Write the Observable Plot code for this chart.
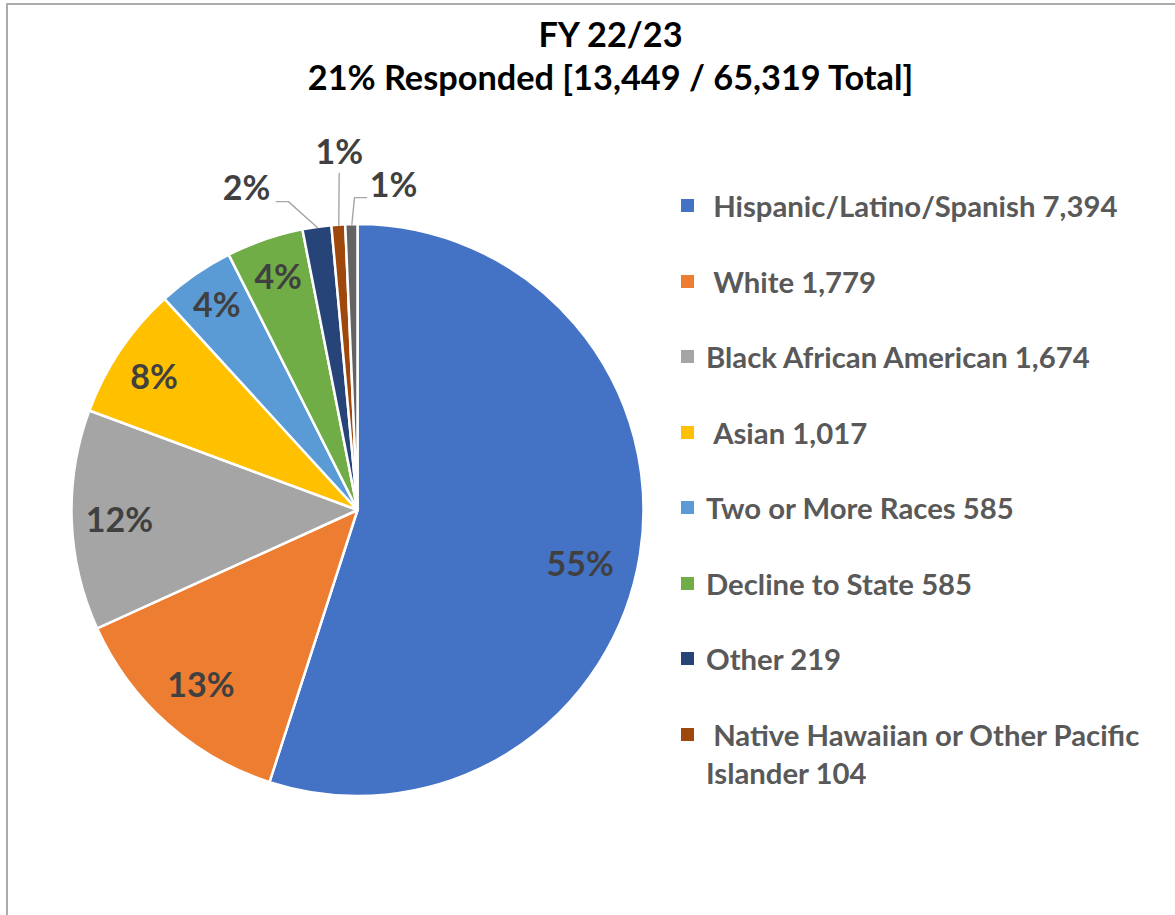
<!DOCTYPE html>
<html>
<head>
<meta charset="utf-8">
<script src="https://cdn.jsdelivr.net/npm/d3@7"></script>
<script src="https://cdn.jsdelivr.net/npm/@observablehq/plot@0.6"></script>
<style>
  body { margin: 0; background: #fff; font-family: Lato, "Open Sans", sans-serif; }
  #wrap { position: relative; width: 1175px; height: 915px; overflow: hidden; background: #fff; }
  #frame { position: absolute; left: 6px; top: 3px; width: 1200px; height: 1000px; border: 2px solid #ababab; box-sizing: border-box; }
  #title { position: absolute; left: 23px; top: 12px; width: 1175px; text-align: center; font-weight: 700; font-size: 34.3px; line-height: 43px; color: #000; }
  #chart { position: absolute; left: 0; top: 110px; }
  .leg { position: absolute; left: 681px; font-weight: 700; font-size: 29.3px; line-height: 38px; color: #595959; white-space: pre-wrap; }
  .leg .sw { position: absolute; left: 0; top: 12px; width: 13px; height: 13px; }
  .leg .tx { position: absolute; left: 25px; top: 0; width: 460px; }
</style>
</head>
<body>
<div id="wrap">
  <div id="frame"></div>
  <div id="title"></div>
  <div id="chart"></div>
  <div id="legend"></div>
</div>
<script>
// ---- data ----
const fiscalYear = "FY 22/23";
const responded = 13449;
const totalPopulation = 65319;
const categories = [
  " Hispanic/Latino/Spanish",
  " White",
  "Black African American",
  " Asian",
  "Two or More Races",
  "Decline to State",
  "Other",
  " Native Hawaiian or Other Pacific Islander",
  "American Indian or Alaska Native"
];
const counts = [7394, 1779, 1674, 1017, 585, 585, 219, 104, 92];
const colors = ["#4472C4", "#ED7D31", "#A5A5A5", "#FFC000", "#5B9BD5", "#70AD47", "#264478", "#9E480E", "#636363"];
const legendVisible = 8; // entries visible in the legend (last one is clipped off)

// ---- title ----
const pct0 = d3.format(".0%");
const fmt = d3.format(",");
document.getElementById("title").innerHTML =
  `${fiscalYear}<br>${pct0(responded / totalPopulation)} Responded [${fmt(responded)} / ${fmt(totalPopulation)} Total]`;

// ---- layout (pie units: 1 = radius) ----
const W = 1175, H = 805, R = 286, CX = 357.5, CY = 400;
const rows = categories.map((c, i) => ({name: c, count: counts[i], color: colors[i], i}));
const arcs = d3.pie().sort(null).value(d => d.count)(rows);
const deg = Math.PI / 180;
const polar = (a, r) => [Math.sin(a) * r, -Math.cos(a) * r];
const mid = a => (a.startAngle + a.endAngle) / 2;

// inside labels (first six slices): radial distance and angular nudge (deg)
const insideLayout = [[0.80, 4.8], [0.825, 0], [0.835, -0.4], [0.85, -1], [0.87, 0], [0.86, 0]];
const inside = arcs.slice(0, 6).map((a, i) => {
  const [r, nudge] = insideLayout[i];
  const [x, y] = polar(mid(a) + nudge * deg, r);
  return {x, y, text: pct0(a.value / responded)};
});

// outside labels with leaders for the small slices
const outsideLayout = [
  {i: 6, label: [-19.1, 1.19], elbow: [-12.7, 1.107], tail: -0.042},
  {i: 7, label: [-3.0, 1.25], elbow: [-3.2, 1.18], tail: 0},
  {i: 8, label: [6.25, 1.14], elbow: [-0.64, 1.094], tail: 0.042}
];
const outside = outsideLayout.map(o => {
  const a = arcs[o.i];
  const [x, y] = polar(o.label[0] * deg, o.label[1]);
  return {x, y, text: pct0(a.value / responded)};
});
const leaders = outsideLayout.flatMap(o => {
  const a = arcs[o.i];
  const e = polar(mid(a), 1.0);
  const b = polar(o.elbow[0] * deg, o.elbow[1]);
  const pts = [{x: e[0], y: e[1], k: o.i}, {x: b[0], y: b[1], k: o.i}];
  if (o.tail) pts.push({x: b[0] + o.tail, y: b[1], k: o.i});
  return pts;
});

function pieSlices(...args) {
  const s = args.find(a => a && typeof a.x === "function" && typeof a.y === "function");
  const cx = s.x(0), cy = s.y(0), r = s.x(1) - s.x(0);
  const arc = d3.arc().innerRadius(0).outerRadius(r);
  const g = d3.create("svg:g").attr("transform", `translate(${cx},${cy})`);
  g.selectAll("path").data(arcs).join("path")
    .attr("d", arc)
    .attr("fill", d => d.data.color)
    .attr("stroke", "#fff")
    .attr("stroke-width", 2.5)
    .attr("stroke-linejoin", "round");
  return g.node();
}

const chart = Plot.plot({
  width: W, height: H,
  margin: 0,
  x: {domain: [-CX / R, (W - CX) / R], range: [0, W], axis: null},
  y: {domain: [-CY / R, (H - CY) / R], range: [0, H], axis: null},
  style: {background: "transparent", overflow: "visible"},
  marks: [
    pieSlices,
    Plot.line(leaders, {x: "x", y: "y", z: "k", stroke: "#a6a6a6", strokeWidth: 1.4}),
    Plot.text(inside.concat(outside), {
      x: "x", y: "y", text: "text",
      fill: "#404040", fontSize: 34, fontWeight: 700, fontFamily: "Lato",
      textAnchor: "middle", lineAnchor: "middle"
    })
  ]
});
document.getElementById("chart").appendChild(chart);

// ---- legend ----
const legend = document.getElementById("legend");
const rowStart = 206, rowStep = 75.5;
rows.slice(0, legendVisible).forEach((d, i) => {
  const item = document.createElement("div");
  item.className = "leg";
  item.style.top = (rowStart + i * rowStep - 19) + "px";
  item.innerHTML = `<div class="sw" style="background:${d.color}"></div><div class="tx"></div>`;
  item.querySelector(".tx").textContent = `${d.name} ${fmt(d.count)}`;
  legend.appendChild(item);
});
</script>
</body>
</html>
